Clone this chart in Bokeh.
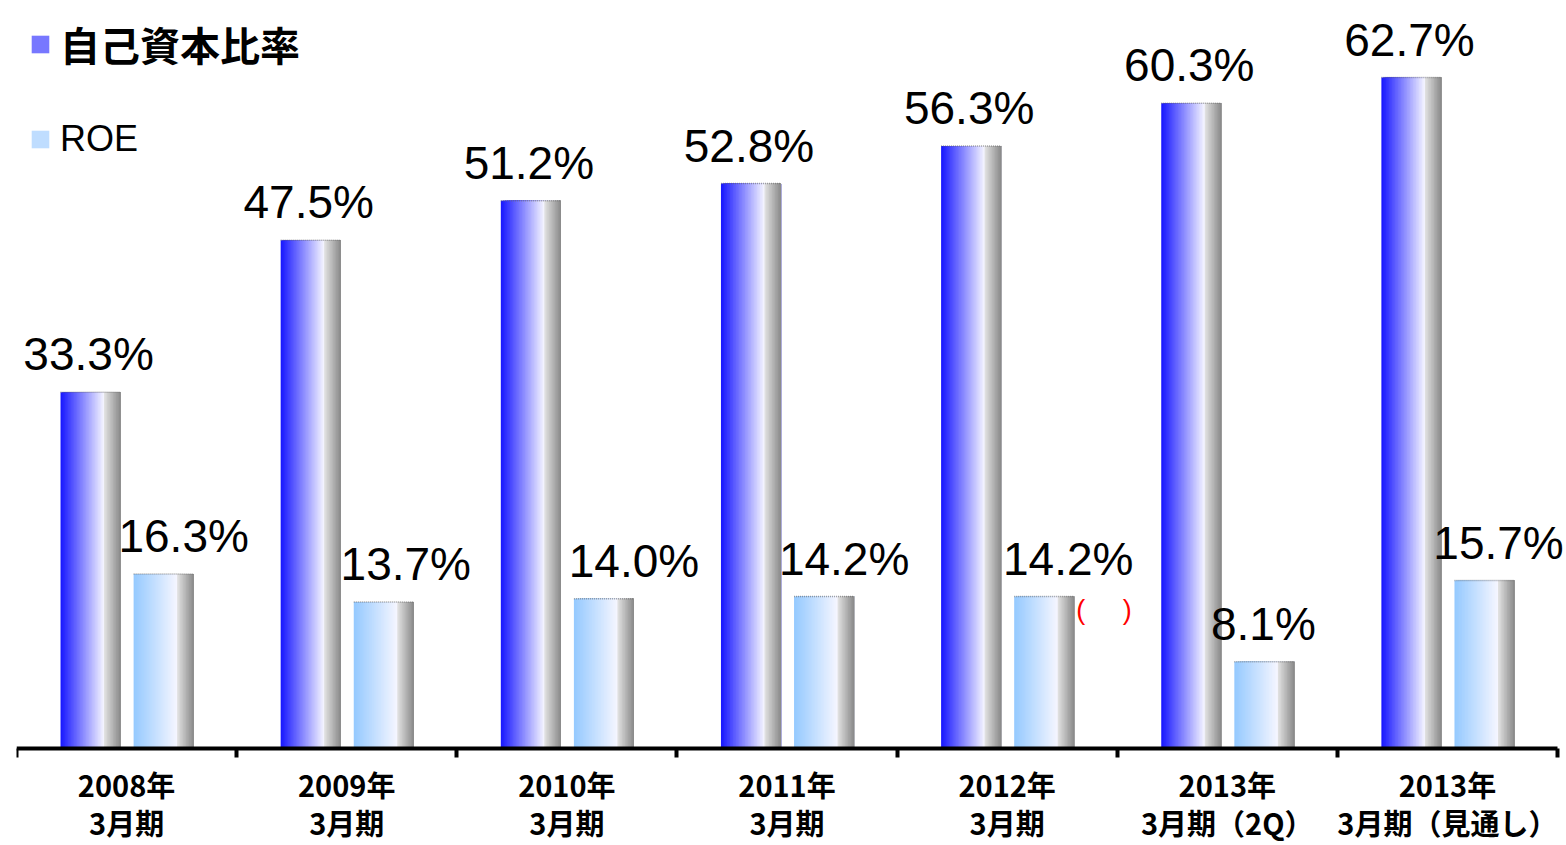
import numpy as np
from bokeh.plotting import figure
from bokeh.models import FixedTicker, Legend, LegendItem, ColumnDataSource, Range1d
from bokeh.core.properties import value
from bokeh.embed import file_html
from bokeh.resources import INLINE

# ---- data ----
categories = ["2008年\n3月期", "2009年\n3月期", "2010年\n3月期", "2011年\n3月期",
              "2012年\n3月期", "2013年\n3月期（2Q）", "2013年\n3月期（見通し）"]
equity_ratio = [33.3, 47.5, 51.2, 52.8, 56.3, 60.3, 62.7]
roe = [16.3, 13.7, 14.0, 14.2, 14.2, 8.1, 15.7]
series_names = ["自己資本比率", "ROE"]
note_index = 4          # category carrying the red "( )" note
note_text = "(\u00a0\u00a0\u00a0\u00a0\u00a0)"

# ---- layout / style ----
W, H = 1566, 845
BAR_W = 0.273
STARTS = [0.200, 0.532]
N = 40
roe_label_dx = [20, 22, 30, 20, 24, -1, 14]


def lerp(c1, c2, t):
    return tuple(int(round(a + (b - a) * t)) for a, b in zip(c1, c2))


def bar_colors(base):
    cols = []
    for k in range(N):
        f = k / N
        if f < 0.71:
            cols.append(lerp(base, (246, 246, 255), f / 0.71))
        else:
            cols.append(lerp((228, 228, 228), (132, 132, 132), (f - 0.71) / 0.29))
    return ["#%02x%02x%02x" % c for c in cols]


p = figure(width=W, height=H, output_backend="svg", toolbar_location=None,
           x_range=Range1d(0, 7.0409), y_range=Range1d(-9.065, 69.907),
           min_border_left=16, min_border_right=0, min_border_top=0, min_border_bottom=0)
p.xgrid.visible = False
p.ygrid.visible = False
p.yaxis.visible = False
p.outline_line_color = None

bases = [(26, 26, 255), (150, 202, 255)]
renderers = []
for s, vals in enumerate([equity_ratio, roe]):
    cols = bar_colors(bases[s])
    left, right, top, color = [], [], [], []
    for i, v in enumerate(vals):
        x0 = i + STARTS[s]
        for k in range(N):
            left.append(x0 + BAR_W * k / N)
            right.append(x0 + BAR_W)
            top.append(v)
            color.append(cols[k])
    src = ColumnDataSource(dict(left=left, right=right, top=top,
                                bottom=[0] * len(top), color=color))
    r = p.quad(left="left", right="right", top="top", bottom="bottom", source=src,
               fill_color="color", line_color=None)
    renderers.append(r)
    # thin dotted top rim
    xs0 = [i + STARTS[s] for i in range(len(vals))]
    xs1 = [i + STARTS[s] + BAR_W for i in range(len(vals))]
    p.segment(x0=xs0, x1=xs1, y0=vals, y1=vals, line_color="#666666",
              line_alpha=0.6, line_width=1.5, line_dash="1 1")

# value labels
eq_src = ColumnDataSource(dict(x=[i + STARTS[0] + BAR_W / 2 for i in range(7)],
                               y=equity_ratio,
                               t=["%.1f%%" % v for v in equity_ratio]))
p.text(x="x", y="y", text="t", source=eq_src, text_font=value("Liberation Sans"),
       text_font_size="46px", text_align="center", text_baseline="alphabetic",
       x_offset=-2, y_offset=-38, text_color="black")
roe_src = ColumnDataSource(dict(x=[i + STARTS[1] + BAR_W / 2 for i in range(7)],
                                y=roe, t=["%.1f%%" % v for v in roe], dx=roe_label_dx))
p.text(x="x", y="y", text="t", source=roe_src, text_font=value("Liberation Sans"),
       text_font_size="46px", text_align="center", text_baseline="alphabetic",
       x_offset="dx", y_offset=-38, text_color="black")

# red note
p.text(x=[note_index + STARTS[1] + BAR_W], y=[roe[note_index]], text=[note_text],
       text_font=value("Liberation Sans"), text_font_size="27px", text_color="red",
       text_align="left", text_baseline="middle", x_offset=2, y_offset=13)

# x axis, pinned at y = 0
ax = p.xaxis[0]
ax.fixed_location = 0
ax.bounds = (0, 7)
ax.ticker = FixedTicker(ticks=[i + 0.5 for i in range(7)], minor_ticks=list(range(8)))
ax.major_label_overrides = {i + 0.5: categories[i] for i in range(7)}
ax.axis_line_width = 4
ax.axis_line_color = "black"
ax.major_tick_line_color = None
ax.major_tick_out = 0
ax.major_tick_in = 0
ax.minor_tick_out = 9
ax.minor_tick_in = 0
ax.minor_tick_line_width = 4
ax.minor_tick_line_color = "black"
ax.major_label_standoff = 5
ax.major_label_text_font = "Noto Sans CJK JP"
ax.major_label_text_font_size = "29px"
ax.major_label_text_font_style = "bold"
ax.major_label_text_color = "black"
ax.major_label_text_line_height = 0.92

# legends
leg1 = Legend(items=[LegendItem(label=series_names[0], renderers=[renderers[0]], index=12)],
              location=(13, 772), padding=0, margin=0, border_line_color=None,
              background_fill_alpha=0, glyph_width=22, glyph_height=22, label_standoff=9,
              label_text_font="Noto Sans CJK JP", label_text_font_size="40px",
              label_text_font_style="bold", label_text_color="black")
leg2 = Legend(items=[LegendItem(label=series_names[1], renderers=[renderers[1]], index=12)],
              location=(13, 685), padding=0, margin=0, border_line_color=None,
              background_fill_alpha=0, glyph_width=22, glyph_height=22, label_standoff=9,
              label_text_font="Liberation Sans", label_text_font_size="36px",
              label_text_color="black")
p.add_layout(leg1, "center")
p.add_layout(leg2, "center")

open("out.html", "w").write(file_html(p, INLINE))
